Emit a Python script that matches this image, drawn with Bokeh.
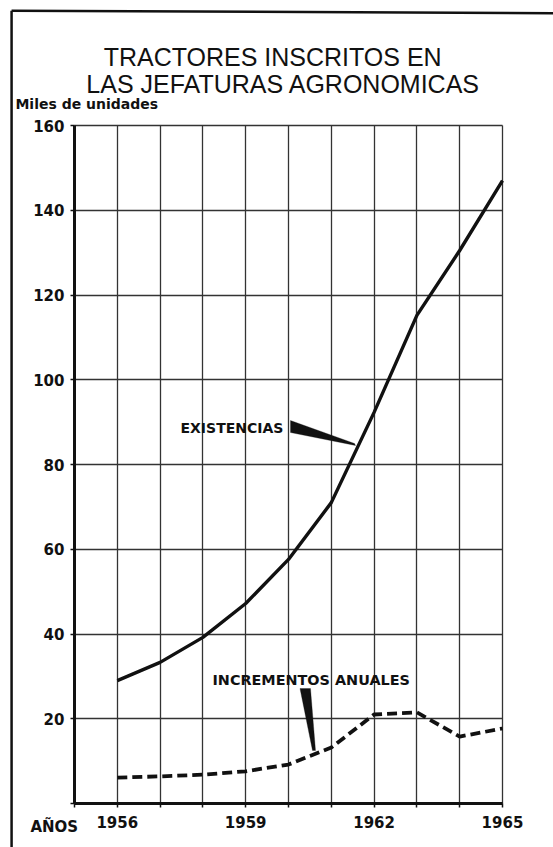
from bokeh.plotting import figure
from bokeh.models import Range1d, FixedTicker, Label, PolyAnnotation, Arrow
from bokeh.embed import file_html
from bokeh.resources import INLINE

# ---- data ----
years = [1956, 1957, 1958, 1959, 1960, 1961, 1962, 1963, 1964, 1965]
existencias = [29.0, 33.3, 39.2, 47.2, 57.6, 71.0, 92.3, 115.2, 130.5, 147.0]
incrementos = [6.1, 6.4, 6.8, 7.6, 9.2, 13.2, 21.0, 21.5, 15.8, 17.7]

x_ticks = list(range(1955, 1966))
x_labeled = [1956, 1959, 1962, 1965]
y_ticks = [0, 20, 40, 60, 80, 100, 120, 140, 160]

title_1 = "TRACTORES INSCRITOS EN"
title_2 = "LAS JEFATURAS AGRONOMICAS"
y_title = "Miles de unidades"
x_title = "AÑOS"
label_exist = "EXISTENCIAS"
label_incr = "INCREMENTOS ANUALES"

INK = "#111111"
GRID = "#333333"
BOLD_FONT = "DejaVu Sans"

# the frame covers the whole canvas; axes sit at fixed data locations
p = figure(width=553, height=847, output_backend="svg", toolbar_location=None,
           x_range=Range1d(1953.271, 1966.192), y_range=Range1d(-10.383, 189.50),
           min_border=0)
p.background_fill_color = "white"
p.border_fill_color = "white"
p.outline_line_color = None

# axes
p.xaxis.ticker = FixedTicker(ticks=x_ticks)
p.yaxis.ticker = FixedTicker(ticks=y_ticks)
p.xaxis.fixed_location = 0
p.yaxis.fixed_location = 1955
p.xaxis.bounds = (1955, 1965)
p.yaxis.bounds = (0, 160)
p.xaxis.major_label_overrides = {t: (str(t) if t in x_labeled else "") for t in x_ticks}
p.yaxis.major_label_overrides = {0: ""}
for ax in (p.xaxis[0], p.yaxis[0]):
    ax.axis_line_width = 3
    ax.axis_line_color = INK
    ax.major_tick_line_color = INK
    ax.major_tick_line_width = 1.5
    ax.major_tick_in = 0
    ax.major_tick_out = 4
    ax.minor_tick_line_color = None
    ax.major_label_text_font = BOLD_FONT
    ax.major_label_text_font_style = "bold"
    ax.major_label_text_font_size = "15px"
    ax.major_label_text_color = INK
p.xaxis.major_label_standoff = 8
p.yaxis.major_label_standoff = 6

p.xgrid.ticker = FixedTicker(ticks=x_ticks)
p.ygrid.ticker = FixedTicker(ticks=y_ticks)
p.xgrid.bounds = (1955, 1965)
p.ygrid.bounds = (0, 160)
p.xgrid.cross_bounds = (0, 160)
p.ygrid.cross_bounds = (1955, 1965)
p.grid.grid_line_color = GRID
p.grid.grid_line_width = 1.3

# series
p.line(years, existencias, line_color=INK, line_width=3.4, line_join="round")
p.line(years, incrementos, line_color=INK, line_width=3.8, line_dash="10 5")

# pointer wedges
p.add_layout(PolyAnnotation(xs=[1960.047, 1961.542, 1961.565, 1960.047],
                            ys=[90.38, 84.96, 84.49, 87.55],
                            fill_color=INK, fill_alpha=1, line_color=INK, line_width=1))
p.add_layout(PolyAnnotation(xs=[1960.269, 1960.514, 1960.631, 1960.561],
                            ys=[27.14, 27.14, 12.51, 12.51],
                            fill_color=INK, fill_alpha=1, line_color=INK, line_width=1))

def lab(x, y, text, size, bold=True, align="left", font=BOLD_FONT):
    p.add_layout(Label(x=x, y=y, text=text, text_font=font,
                       text_font_style="bold" if bold else "normal",
                       text_font_size=size, text_color=INK,
                       text_align=align, text_baseline="alphabetic"))

lab(1959.63, 176.05, title_1, "25px", bold=False, align="center", font="Liberation Sans")
lab(1959.88, 169.91, title_2, "25px", bold=False, align="center", font="Liberation Sans")
lab(1953.62, 165.19, y_title, "14px")
lab(1953.97, -5.66, x_title, "15px")
lab(1957.477, 88.5, label_exist, "14px")
lab(1958.224, 29.03, label_incr, "14.4px")

# page frame lines (top and left)
p.add_layout(Arrow(end=None, x_start=1953.53, y_start=187.1, x_end=1966.19, y_end=186.5,
                   line_color=INK, line_width=2.5))
p.add_layout(Arrow(end=None, x_start=1953.53, y_start=187.1, x_end=1953.53, y_end=-10.38,
                   line_color=INK, line_width=2.5))

open("out.html", "w").write(file_html(p, INLINE))
